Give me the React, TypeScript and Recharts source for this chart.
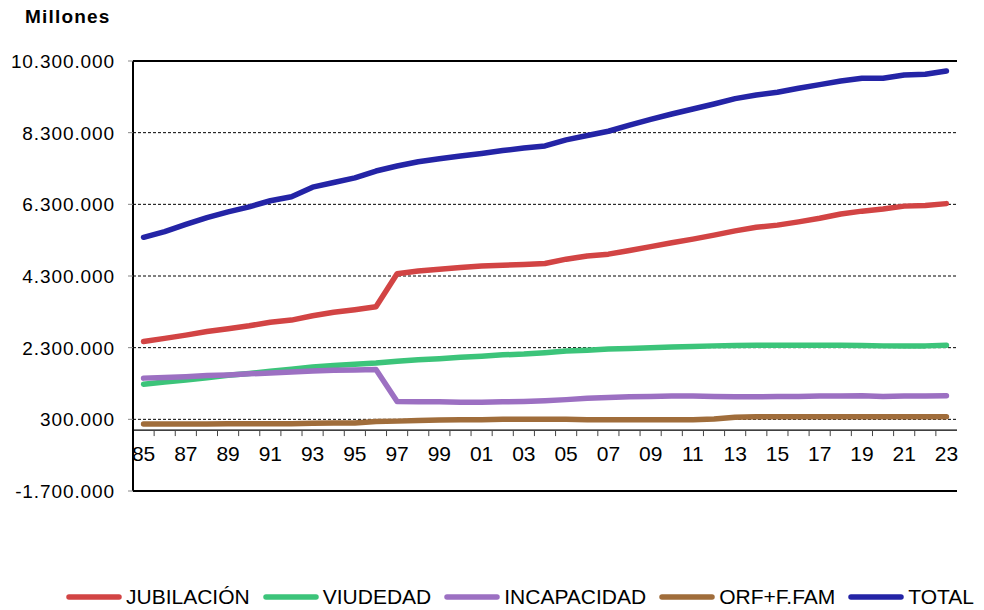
import React from 'react';
import { LineChart, Line, XAxis, YAxis, CartesianGrid, ReferenceLine } from 'recharts';

const years = ['85', '86', '87', '88', '89', '90', '91', '92', '93', '94', '95', '96', '97', '98', '99', '00', '01', '02', '03', '04', '05', '06', '07', '08', '09', '10', '11', '12', '13', '14', '15', '16', '17', '18', '19', '20', '21', '22', '23'];

const jubilacion = [2470000, 2560000, 2650000, 2750000, 2830000, 2910000, 3010000, 3070000, 3190000, 3290000, 3360000, 3440000, 4360000, 4440000, 4490000, 4540000, 4580000, 4600000, 4620000, 4650000, 4770000, 4860000, 4910000, 5010000, 5120000, 5230000, 5330000, 5440000, 5560000, 5660000, 5720000, 5810000, 5910000, 6030000, 6110000, 6170000, 6250000, 6270000, 6320000];
const viudedad = [1280000, 1340000, 1400000, 1460000, 1530000, 1580000, 1640000, 1700000, 1760000, 1800000, 1840000, 1870000, 1920000, 1960000, 1990000, 2030000, 2060000, 2100000, 2120000, 2160000, 2210000, 2230000, 2260000, 2280000, 2300000, 2320000, 2330000, 2350000, 2360000, 2370000, 2370000, 2370000, 2370000, 2370000, 2360000, 2350000, 2350000, 2350000, 2370000];
const incapacidad = [1450000, 1470000, 1490000, 1520000, 1540000, 1570000, 1590000, 1620000, 1650000, 1670000, 1680000, 1690000, 800000, 790000, 790000, 780000, 780000, 790000, 800000, 820000, 850000, 890000, 910000, 930000, 940000, 950000, 950000, 940000, 930000, 930000, 940000, 940000, 950000, 950000, 960000, 940000, 950000, 950000, 960000];
const orfFam = [170000, 170000, 170000, 170000, 180000, 180000, 180000, 180000, 190000, 200000, 200000, 240000, 250000, 270000, 280000, 290000, 290000, 300000, 300000, 300000, 300000, 290000, 290000, 290000, 290000, 290000, 290000, 310000, 360000, 370000, 370000, 370000, 370000, 370000, 370000, 370000, 370000, 370000, 370000];
const total = [5380000, 5540000, 5740000, 5930000, 6090000, 6230000, 6400000, 6510000, 6780000, 6910000, 7040000, 7230000, 7370000, 7490000, 7570000, 7650000, 7720000, 7800000, 7870000, 7930000, 8100000, 8220000, 8340000, 8510000, 8670000, 8820000, 8960000, 9100000, 9250000, 9350000, 9430000, 9540000, 9640000, 9740000, 9820000, 9820000, 9910000, 9930000, 10020000];

const yTicks = [-1700000, 300000, 2300000, 4300000, 6300000, 8300000, 10300000];

const series = [
    { key: 'jubilacion', name: 'JUBILACIÓN', color: '#d24444', values: jubilacion },
    { key: 'viudedad', name: 'VIUDEDAD', color: '#3cc47a', values: viudedad },
    { key: 'incapacidad', name: 'INCAPACIDAD', color: '#9c70c2', values: incapacidad },
    { key: 'orf', name: 'ORF+F.FAM', color: '#a06d3b', values: orfFam },
    { key: 'total', name: 'TOTAL', color: '#2424a6', values: total },
];

const data = years.map((year, i) => {
    const row: Record<string, string | number> = { year };
    series.forEach((s) => { row[s.key] = s.values[i]; });
    return row;
});

const W = 984;
const H = 610;
const PLOT_LEFT = 133;
const PLOT_RIGHT = 957;
const PLOT_TOP = 61;
const PLOT_BOTTOM = 491;
const X_AXIS_H = 10;
const Y_MIN = yTicks[0];
const Y_MAX = yTicks[yTicks.length - 1];
const BAND = (PLOT_RIGHT - PLOT_LEFT) / years.length;
const ZERO_Y = PLOT_TOP + ((Y_MAX - 0) / (Y_MAX - Y_MIN)) * (PLOT_BOTTOM - PLOT_TOP);
const FONT = '"Liberation Sans", Arial, sans-serif';

const fmt = (v: number) => {
    const s = Math.abs(v).toString().replace(/\B(?=(\d{3})+(?!\d))/g, '.');
    return (v < 0 ? '-' : '') + s;
};

// the category axis crosses at zero, so ticks and labels are drawn there
function XTick(props: any) {
    const { x, payload } = props;
    const i = years.indexOf(payload.value);
    return (
        <g>
            {i < years.length - 1 && (
                <line x1={x + BAND / 2} x2={x + BAND / 2} y1={ZERO_Y} y2={ZERO_Y + 6} stroke="#444" strokeWidth={1} />
            )}
            {i % 2 === 0 && (
                <text x={x} y={ZERO_Y + 31} textAnchor="middle" fontSize={21} fill="#000" fontFamily={FONT}>
                    {payload.value}
                </text>
            )}
        </g>
    );
}

function YTick(props: any) {
    const { x, y, payload } = props;
    return (
        <text x={x} y={y + 7} textAnchor="end" fontSize={19} fill="#000" fontFamily={FONT} letterSpacing={0.9}>
            {fmt(payload.value)}
        </text>
    );
}

function LegendRow() {
    return (
        <div style={{ position: 'absolute', left: 66, top: 585, display: 'flex', alignItems: 'center', fontFamily: FONT, fontSize: 21, color: '#000', whiteSpace: 'nowrap' }}>
            {series.map((s) => (
                <div key={s.key} style={{ display: 'flex', alignItems: 'center', marginRight: 13 }}>
                    <svg width={56} height={8} style={{ marginRight: 4 }}>
                        <line x1={3} x2={53} y1={4} y2={4} stroke={s.color} strokeWidth={5.5} strokeLinecap="round" />
                    </svg>
                    <span style={{ lineHeight: '24px' }}>{s.name}</span>
                </div>
            ))}
        </div>
    );
}

export default function App() {
    return (
        <div style={{ position: 'absolute', left: 0, top: 0, width: W, height: H, background: '#fff' }}>
            <div style={{ position: 'absolute', left: 25, top: 6, fontFamily: FONT, fontSize: 19, fontWeight: 'bold', letterSpacing: 1.2 }}>
                Millones
            </div>
            <LineChart
                width={W}
                height={H}
                data={data}
                margin={{ top: PLOT_TOP, right: W - PLOT_RIGHT, bottom: H - PLOT_BOTTOM - X_AXIS_H, left: 20 }}
            >
                <CartesianGrid horizontal vertical={false} stroke="#000" strokeDasharray="3 2" strokeWidth={1} />
                <XAxis
                    dataKey="year"
                    interval={0}
                    height={X_AXIS_H}
                    axisLine={false}
                    tickLine={false}
                    padding={{ left: BAND / 2, right: BAND / 2 }}
                    tick={XTick}
                />
                <YAxis
                    width={PLOT_LEFT - 20}
                    domain={[Y_MIN, Y_MAX]}
                    ticks={yTicks}
                    interval={0}
                    axisLine={{ stroke: '#000', strokeWidth: 2 }}
                    tickLine={{ stroke: '#888' }}
                    tickSize={5}
                    tickMargin={13}
                    tick={YTick}
                />
                <YAxis
                    yAxisId="right"
                    orientation="right"
                    width={0}
                    domain={[Y_MIN, Y_MAX]}
                    tick={false}
                    tickLine={false}
                    axisLine={{ stroke: '#000', strokeWidth: 2 }}
                />
                <ReferenceLine y={Y_MAX} stroke="#000" strokeWidth={2} />
                <ReferenceLine y={Y_MIN} stroke="#000" strokeWidth={2} />
                <ReferenceLine y={0} stroke="#000" strokeWidth={1.3} />
                {series.map((s) => (
                    <Line
                        key={s.key}
                        type="linear"
                        dataKey={s.key}
                        name={s.name}
                        stroke={s.color}
                        strokeWidth={5.5}
                        strokeLinecap="round"
                        strokeLinejoin="round"
                        dot={false}
                        activeDot={false}
                        isAnimationActive={false}
                    />
                ))}
            </LineChart>
            <LegendRow />
        </div>
    );
}
